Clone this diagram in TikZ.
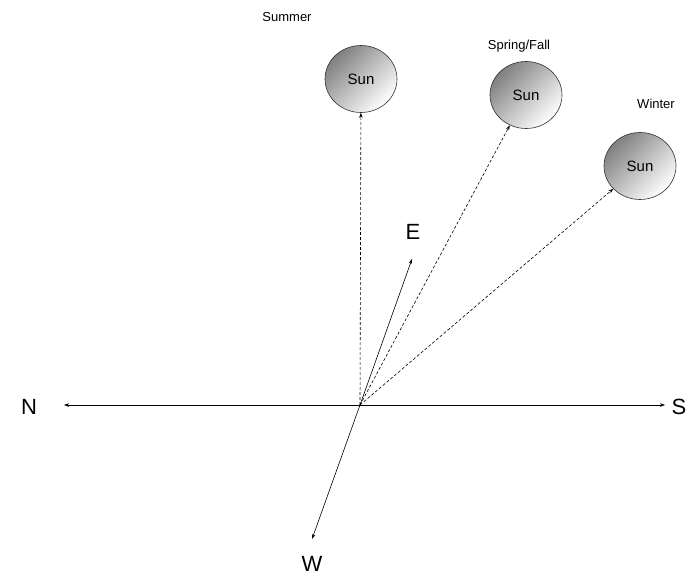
\documentclass[tikz,border=0pt]{standalone}
\usepackage{fontspec}
\setmainfont{Liberation Sans}
\usetikzlibrary{arrows.meta,shapes.geometric}
\begin{document}
\begin{tikzpicture}[x=1pt,y=-1pt,
  tip/.style={-{Stealth[length=5pt,width=3.5pt]}},
  axis/.style={line width=0.6pt,tip},
  ray/.style={line width=0.6pt,dashed,dash pattern=on 3pt off 2pt,tip},
  sun/.style={ellipse,draw=black!80,line width=0.6pt,minimum width=72pt,minimum height=67pt,
    top color=black!50,bottom color=white,shading angle=45,font=\fontsize{15}{17}\selectfont,inner sep=0pt},
  season/.style={font=\fontsize{13}{15}\selectfont},
  dir/.style={font=\fontsize{22}{24}\selectfont,inner sep=0pt}]
\useasboundingbox (0,0) rectangle (690,577);
\coordinate (O) at (360,405);
\coordinate (Nend) at (64,405);
\coordinate (Send) at (665,405);
\coordinate (Eend) at (412,259);
\coordinate (Wend) at (312,539);
\node[dir] (N) at (29,407) {N};
\node[dir] (S) at (679,407) {S};
\node[dir] (E) at (413,232) {E};
\node[dir] (W) at (312,564) {W};
\node[season] (lsum) at (287,17) {Summer};
\node[season] (lspr) at (519,46) {Spring/Fall};
\node[season] (lwin) at (656,104) {Winter};
\node[sun] (sun1) at (361,79) {Sun};
\node[sun] (sun2) at (526,95) {Sun};
\node[sun] (sun3) at (640,166) {Sun};
\draw[axis] (O) -- (Nend);
\draw[axis] (O) -- (Send);
\draw[axis] (O) -- (Eend);
\draw[axis] (O) -- (Wend);
\draw[ray] (O) -- (sun1);
\draw[ray] (O) -- (sun2);
\draw[ray] (O) -- (sun3);
\end{tikzpicture}
\end{document}
